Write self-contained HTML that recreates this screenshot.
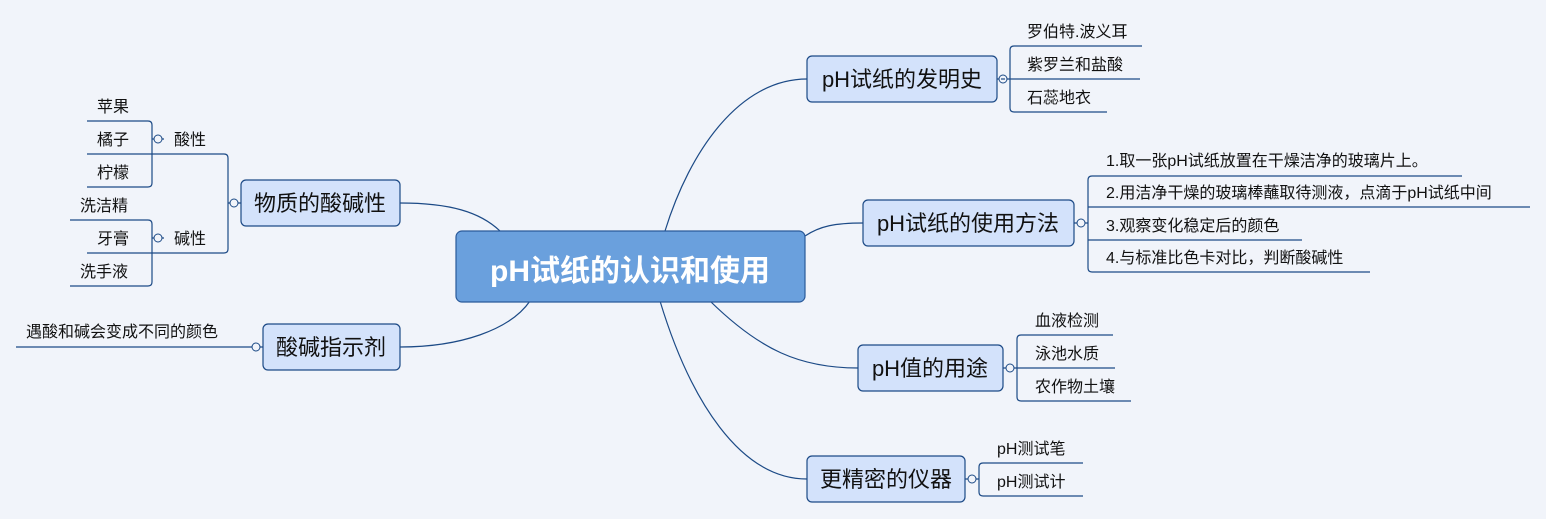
<!DOCTYPE html>
<html><head><meta charset="utf-8"><style>
html,body{margin:0;padding:0;background:#f1f4fa;}
svg{display:block;font-family:"Liberation Sans","Noto Sans CJK SC",sans-serif;}
.l{fill:none;stroke:#1c4a86;stroke-width:1.2}
.n{fill:#d3e2fb;stroke:#1c4a86;stroke-width:1.2}
.t{font-size:22px;fill:#111}
.s{font-size:16px;fill:#111}
.c{fill:#f1f4fa;stroke:#1c4a86;stroke-width:1}
</style></head><body>
<svg width="1546" height="519" viewBox="0 0 1546 519">
<path class="l" d="M400,203 C450,203 480,212 500,231"/>
<path class="l" d="M400,347 C460,347 510,330 530,301"/>
<path class="l" d="M665,231 C690,150 740,79 807,79"/>
<path class="l" d="M805,236 C820,226 835,223 863,223"/>
<path class="l" d="M710,301 C760,350 800,368 858,368"/>
<path class="l" d="M660,301 C690,400 740,479 807,479"/>
<rect x="456" y="231" width="349" height="71" rx="6" fill="#6aa0dd" stroke="#2a5a9a" stroke-width="1.2"/>
<text x="630" y="281" text-anchor="middle" font-size="30" font-weight="bold" fill="#fff">pH试纸的认识和使用</text>
<rect class="n" x="241" y="180" width="159" height="46" rx="5"/>
<text class="t" x="320" y="211" text-anchor="middle">物质的酸碱性</text>
<rect class="n" x="263" y="324" width="137" height="46" rx="5"/>
<text class="t" x="331" y="355" text-anchor="middle">酸碱指示剂</text>
<rect class="n" x="807" y="56" width="190" height="46" rx="5"/>
<text class="t" x="902" y="87" text-anchor="middle">pH试纸的发明史</text>
<rect class="n" x="863" y="200" width="211" height="46" rx="5"/>
<text class="t" x="968" y="231" text-anchor="middle">pH试纸的使用方法</text>
<rect class="n" x="858" y="345" width="145" height="46" rx="5"/>
<text class="t" x="930" y="376" text-anchor="middle">pH值的用途</text>
<rect class="n" x="807" y="456" width="158" height="46" rx="5"/>
<text class="t" x="886" y="487" text-anchor="middle">更精密的仪器</text>

<path class="l" d="M997,79 H1010 M1142,46 H1014 Q1010,46 1010,50 V108 Q1010,112 1014,112 H1107 M1010,79 H1140"/>
<circle class="c" cx="1003" cy="79" r="4"/><path class="l" d="M1001,79 H1005" stroke-width="0.8"/>
<text class="s" x="1027" y="37">罗伯特.波义耳</text>
<text class="s" x="1027" y="70">紫罗兰和盐酸</text>
<text class="s" x="1027" y="103">石蕊地衣</text>

<path class="l" d="M1074,223 H1088 M1462,176 H1092 Q1088,176 1088,180 V268 Q1088,272 1092,272 H1370 M1088,207 H1530 M1088,240 H1302"/>
<circle class="c" cx="1081" cy="223" r="4"/>
<text class="s" x="1106" y="166">1.取一张pH试纸放置在干燥洁净的玻璃片上。</text>
<text class="s" x="1106" y="198">2.用洁净干燥的玻璃棒蘸取待测液，点滴于pH试纸中间</text>
<text class="s" x="1106" y="231">3.观察变化稳定后的颜色</text>
<text class="s" x="1106" y="263">4.与标准比色卡对比，判断酸碱性</text>

<path class="l" d="M1003,368 H1017 M1113,335 H1021 Q1017,335 1017,339 V397 Q1017,401 1021,401 H1131 M1017,368 H1115"/>
<circle class="c" cx="1010" cy="368" r="4"/>
<text class="s" x="1035" y="326">血液检测</text>
<text class="s" x="1035" y="359">泳池水质</text>
<text class="s" x="1035" y="392">农作物土壤</text>

<path class="l" d="M965,479 H979 M1083,463 H983 Q979,463 979,467 V492 Q979,496 983,496 H1083"/>
<circle class="c" cx="972" cy="479" r="4"/>
<text class="s" x="997" y="454">pH测试笔</text>
<text class="s" x="997" y="487">pH测试计</text>

<path class="l" d="M241,203 H228 M87,154 H224 Q228,154 228,158 V249 Q228,253 224,253 H87"/>
<circle class="c" cx="234" cy="203" r="4"/>
<text class="s" x="174" y="145">酸性</text>
<text class="s" x="174" y="244">碱性</text>
<path class="l" d="M164,139 H152 M87,121 H148 Q152,121 152,125 V183 Q152,187 148,187 H87"/>
<circle class="c" cx="158" cy="139" r="4"/>
<text class="s" x="97" y="112">苹果</text>
<text class="s" x="97" y="145">橘子</text>
<text class="s" x="97" y="178">柠檬</text>
<path class="l" d="M164,238 H152 M70,220 H148 Q152,220 152,224 V282 Q152,286 148,286 H70"/>
<circle class="c" cx="158" cy="238" r="4"/>
<text class="s" x="80" y="211">洗洁精</text>
<text class="s" x="97" y="244">牙膏</text>
<text class="s" x="80" y="277">洗手液</text>

<path class="l" d="M263,347 H16"/>
<circle class="c" cx="256" cy="347" r="4"/>
<text class="s" x="26" y="337">遇酸和碱会变成不同的颜色</text>
</svg>
</body></html>
